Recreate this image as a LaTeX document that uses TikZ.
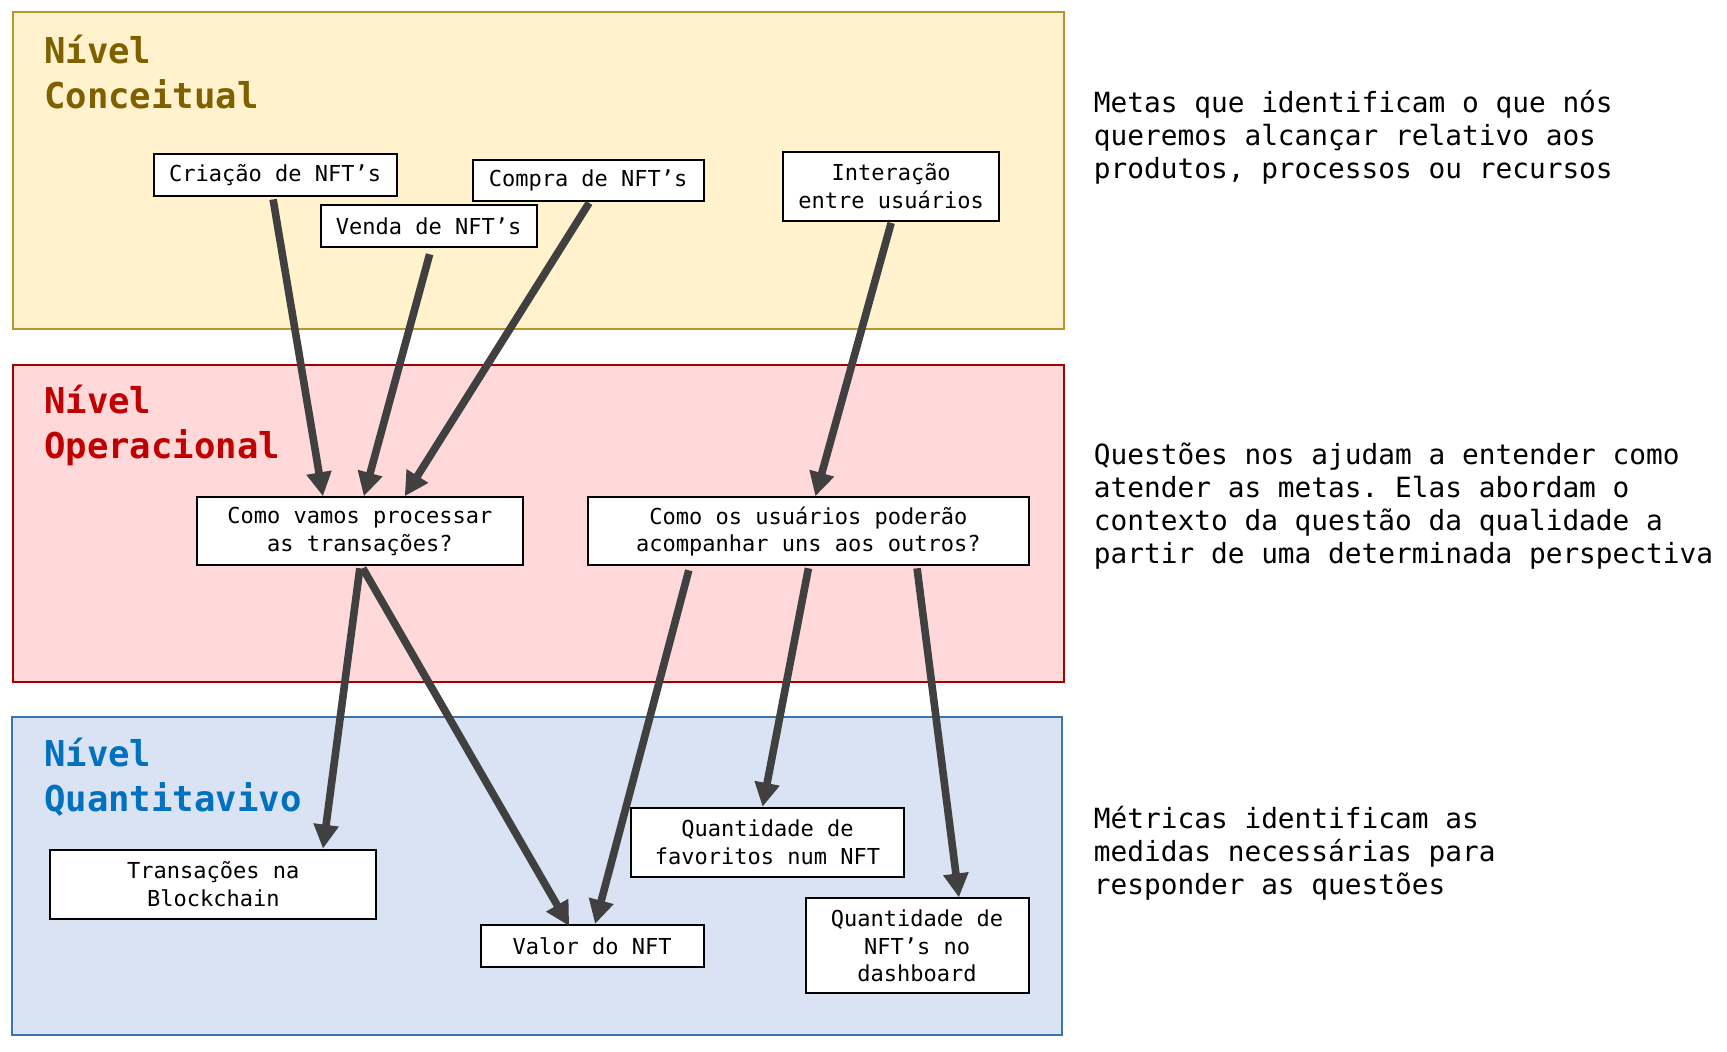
\documentclass[tikz,border=0pt]{standalone}
\usepackage{fontspec}
\setmonofont{DejaVu Sans Mono}
\usetikzlibrary{arrows.meta,calc}

\definecolor{conceitofill}{HTML}{FFF2CC}
\definecolor{conceitoline}{HTML}{B8972A}
\definecolor{conceitotext}{HTML}{7F6000}
\definecolor{operafill}{HTML}{FFD8DA}
\definecolor{operaline}{HTML}{A50000}
\definecolor{operatext}{HTML}{C00000}
\definecolor{quantfill}{HTML}{DAE3F3}
\definecolor{quantline}{HTML}{3A75B0}
\definecolor{quanttext}{HTML}{0070C0}
\definecolor{linkgray}{HTML}{404040}

\begin{document}
\begin{tikzpicture}[x=0.4984pt, y=-0.4984pt,
    item/.style={draw, fill=white, line width=1pt, inner sep=0pt, align=center,
      font=\ttfamily\fontsize{11}{13.8}\selectfont},
    leveltitle/.style={anchor=west, align=left, inner sep=0pt,
      font=\ttfamily\bfseries\fontsize{17.8}{22.5}\selectfont},
    note/.style={anchor=west, align=left, inner sep=0pt,
      font=\ttfamily\fontsize{13.9}{16.5}\selectfont},
    link/.style={draw=linkgray, line width=3.8pt, -{Triangle[width=12pt,length=12pt]}}]

  \fill[white] (0pt,0pt) rectangle (863.5pt,-526pt);
  \useasboundingbox (0pt,0pt) rectangle (863.5pt,-526pt);

  % Level frames
  \draw[line width=1pt, draw=conceitoline, fill=conceitofill] (13,12) rectangle (1067,330);
  \draw[line width=1pt, draw=operaline, fill=operafill] (13,366) rectangle (1067,684);
  \draw[line width=1pt, draw=quantline, fill=quantfill] (12,719) rectangle (1065,1038);

  % Level titles
  \node[leveltitle, text=conceitotext] (tconceitual) at (44,72.5) {Nível\\Conceitual};
  \node[leveltitle, text=operatext] (toperacional) at (44,426.5) {Nível\\Operacional};
  \node[leveltitle, text=quanttext] (tquantitativo) at (44,779.5) {Nível\\Quantitavivo};

  % Goals
  \node[item, minimum width=121.5pt, minimum height=21pt] (criacao) at (276,176) {Criação de NFT’s};
  \node[item, minimum width=108pt, minimum height=21pt] (venda) at (430,227) {Venda de NFT’s};
  \node[item, minimum width=115.5pt, minimum height=20.5pt] (compra) at (590,181) {Compra de NFT’s};
  \node[item, minimum width=108pt, minimum height=34.5pt] (interacao) at (894,187) {Interação\\entre usuários};

  % Questions
  \node[item, minimum width=163pt, minimum height=34pt] (processar) at (361,533) {Como vamos processar\\as transações?};
  \node[item, minimum width=220.5pt, minimum height=34pt] (acompanhar) at (811,533) {Como os usuários poderão\\acompanhar uns aos outros?};

  % Metrics
  \node[item, minimum width=163pt, minimum height=34.5pt] (transacoes) at (214,887) {Transações na\\Blockchain};
  \node[item, minimum width=111.5pt, minimum height=21pt] (valor) at (594,949) {Valor do NFT};
  \node[item, minimum width=136.5pt, minimum height=34.5pt] (favoritos) at (770,845) {Quantidade de\\favoritos num NFT};
  \node[item, minimum width=111.5pt, minimum height=47.5pt] (dashboard) at (920,949) {Quantidade de\\NFT’s no\\dashboard};

  % Side notes
  \node[note] (nmetas) at (1097,138) {Metas que identificam o que nós\\queremos alcançar relativo aos\\produtos, processos ou recursos};
  \node[note] (nquestoes) at (1097,507.5) {Questões nos ajudam a entender como\\atender as metas. Elas abordam o\\contexto da questão da qualidade a\\partir de uma determinada perspectiva};
  \node[note] (nmetricas) at (1097,856) {Métricas identificam as\\medidas necessárias para\\responder as questões};

  % Goals to questions
  \draw[link] ($(criacao.south)+(-2,2)$) -- ($(processar.north)+(-37,0)$);
  \draw[link] ($(venda.south)+(1,6)$) -- ($(processar.north)+(4,0)$);
  \draw[link] ($(compra.south)+(1,1)$) -- ($(processar.north)+(45,0)$);
  \draw[link] ($(interacao.south)+(0,1)$) -- ($(acompanhar.north)+(7,0)$);

  % Questions to metrics
  \draw[link] ($(processar.south)+(0,2)$) -- ($(transacoes.north)+(110,0)$);
  \draw[link] ($(processar.south)+(3,2)$) -- ($(valor.north)+(-23,2)$);
  \draw[link] ($(acompanhar.south)+(-120,4)$) -- ($(valor.north)+(3,0)$);
  \draw[link] ($(acompanhar.south)+(0,2)$) -- ($(favoritos.north)+(-5,0)$);
  \draw[link] ($(acompanhar.south)+(109,2)$) -- ($(dashboard.north)+(42,0)$);
\end{tikzpicture}
\end{document}
